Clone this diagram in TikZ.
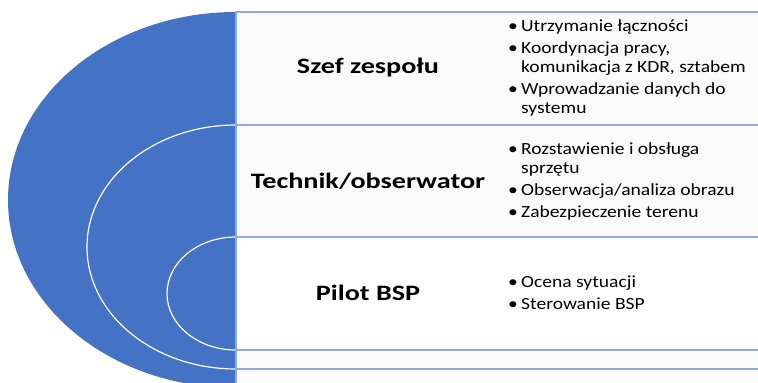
\documentclass[tikz,border=0pt]{standalone}
\usepackage{fontspec}
\setmainfont{Carlito}
\newfontfamily\titlefont[FakeStretch=1.28]{Carlito}
\newfontfamily\itemfont[FakeStretch=1.15]{Carlito}
\definecolor{ringblue}{HTML}{4472C4}
\definecolor{rowline}{HTML}{8FAADC}
\definecolor{rowfill}{HTML}{FAFAFA}
\tikzset{
  rowbox/.style={draw=rowline, line width=1.6pt, fill=rowfill},
  ringline/.style={draw=white, line width=1.2pt},
  titletext/.style={font=\titlefont\bfseries\fontsize{22}{26}\selectfont, anchor=center},
  itemtext/.style={font=\itemfont\fontsize{17}{19}\selectfont, anchor=west, align=left, inner sep=0pt},
}
\newcommand{\bitem}[1]{\makebox[13pt][l]{\textbullet}#1}
\newcommand{\bcont}[1]{\hspace*{13pt}#1}
\begin{document}
\begin{tikzpicture}[x=1pt,y=-1pt]
\useasboundingbox (0,0) rectangle (758,383);
% rings
\begin{scope}
  \clip (0,0) rectangle (236,383);
  \fill[ringblue] (236,200) ellipse [x radius=228, y radius=188];
  \draw[ringline] (236,247) ellipse [x radius=149, y radius=122];
  \draw[ringline] (236,293.5) ellipse [x radius=69, y radius=56.5];
\end{scope}
% rows
\path[rowbox] (236,12) rectangle (770,125) node[pos=0] (r1) {};
\path[rowbox] (236,125) rectangle (770,237) node[pos=0] (r2) {};
\path[rowbox, fill=white] (236,237) rectangle (770,350) node[pos=0] (r3) {};
\path[rowbox] (236,350) rectangle (770,369) node[pos=0] (r4) {};
\path[rowbox] (236,369) rectangle (770,400) node[pos=0] (r5) {};
% titles
\node[titletext] (t1) at (368,68) {Szef zespołu};
\node[titletext] (t2) at (368,181) {Technik/obserwator};
\node[titletext] (t3) at (368,293) {Pilot BSP};
% items
\node[itemtext] (l1) at (508,67.5) {\bitem{Utrzymanie łączności}\\[3pt]
  \bitem{Koordynacja pracy,}\\
  \bcont{komunikacja z KDR, sztabem}\\[3pt]
  \bitem{Wprowadzanie danych do}\\
  \bcont{systemu}};
\node[itemtext] (l2) at (508,181) {\bitem{Rozstawienie i obsługa}\\
  \bcont{sprzętu}\\[3pt]
  \bitem{Obserwacja/analiza obrazu}\\[3pt]
  \bitem{Zabezpieczenie terenu}};
\node[itemtext] (l3) at (508,293) {\bitem{Ocena sytuacji}\\[3pt]
  \bitem{Sterowanie BSP}};
\end{tikzpicture}
\end{document}
